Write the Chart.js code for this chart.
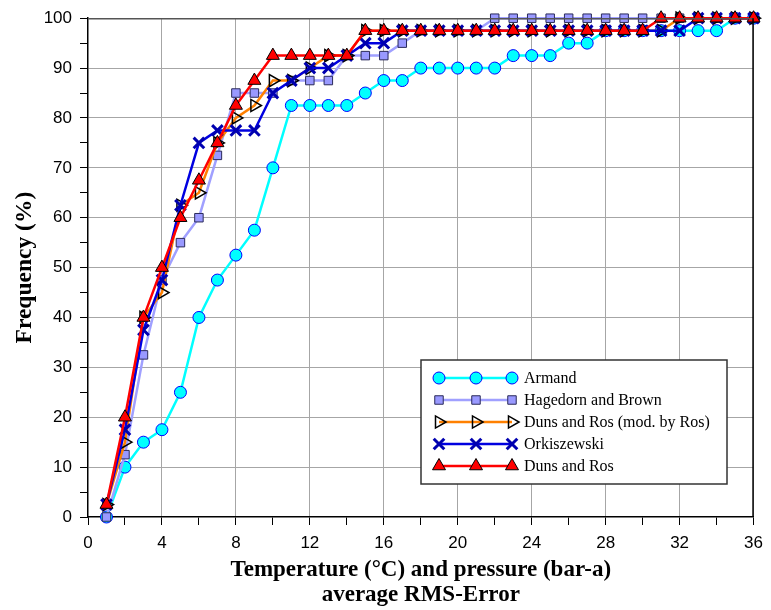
<!DOCTYPE html>
<html><head><meta charset="utf-8">
<script src="https://cdn.jsdelivr.net/npm/chart.js@4/dist/chart.umd.min.js"></script>
<style>html,body{margin:0;padding:0;background:#fff}#wrap{width:771px;height:610px;position:relative}canvas{display:block}</style>
</head><body><div id="wrap"><canvas id="c" width="771" height="610" style="width:771px;height:610px"></canvas></div>
<script>
// ---- data ----
const rmsError = [1,2,3,4,5,6,7,8,9,10,11,12,13,14,15,16,17,18,19,20,21,22,23,24,25,26,27,28,29,30,31,32,33,34,35,36];
const seriesNames = ['Armand','Hagedorn and Brown','Duns and Ros (mod. by Ros)','Orkiszewski','Duns and Ros'];
const armand = [0,10,15,17.5,25,40,47.5,52.5,57.5,70,82.5,82.5,82.5,82.5,85,87.5,87.5,90,90,90,90,90,92.5,92.5,92.5,95,95,97.5,97.5,97.5,97.5,97.5,97.5,97.5,100,100];
const hagedornBrown = [0,12.5,32.5,47.5,55,60,72.5,85,85,85,87.5,87.5,87.5,92.5,92.5,92.5,95,97.5,97.5,97.5,97.5,100,100,100,100,100,100,100,100,100,100,100,100,100,100,100];
const dunsRosMod = [2.5,15,40,45,62.5,65,75,80,82.5,87.5,87.5,90,92.5,92.5,97.5,97.5,97.5,97.5,97.5,97.5,97.5,97.5,97.5,97.5,97.5,97.5,97.5,97.5,97.5,97.5,97.5,100,100,100,100,100];
const orkiszewski = [2.5,17.5,37.5,47.5,62.5,75,77.5,77.5,77.5,85,87.5,90,90,92.5,95,95,97.5,97.5,97.5,97.5,97.5,97.5,97.5,97.5,97.5,97.5,97.5,97.5,97.5,97.5,97.5,97.5,100,100,100,100];
const dunsRos = [2.5,20,40,50,60,67.5,75,82.5,87.5,92.5,92.5,92.5,92.5,92.5,97.5,97.5,97.5,97.5,97.5,97.5,97.5,97.5,97.5,97.5,97.5,97.5,97.5,97.5,97.5,97.5,100,100,100,100,100,100];
const xTickLabels = [0,4,8,12,16,20,24,28,32,36];
const yTickLabels = [0,10,20,30,40,50,60,70,80,90,100];
const xTitle = ['Temperature (\u00B0C) and pressure (bar-a)','average RMS-Error'];
const yTitle = 'Frequency (%)';

// ---- styles ----
const styles = [
  {line:'#00FFFF', fill:'#00FFFF', stroke:'#0000FF', shape:'circle', r:6, bw:1, rot:0, lw:2.5},
  {line:'#A0A0FF', fill:'#9999FF', stroke:'#2A2A5A', shape:'rect', r:6, bw:1, rot:0, lw:2.5},
  {line:'#FF8000', fill:'rgba(0,0,0,0)', stroke:'#000000', shape:'triangle', r:7, bw:1.5, rot:90, lw:2.5},
  {line:'#0000E0', fill:'#0000CC', stroke:'#0000B0', shape:'crossRot', r:7.5, bw:3, rot:0, lw:2.5},
  {line:'#FF0000', fill:'#FF0000', stroke:'#000000', shape:'triangle', r:7.5, bw:1, rot:0, lw:2.5}
];
const allSeries = [armand, hagedornBrown, dunsRosMod, orkiszewski, dunsRos];

const datasets = allSeries.map((arr, i) => {
  const s = styles[i];
  return {
    label: seriesNames[i],
    data: arr.map((v, j) => ({x: rmsError[j], y: v})),
    borderColor: s.line,
    borderWidth: s.lw,
    pointStyle: s.shape,
    pointRadius: s.r,
    pointRotation: s.rot,
    pointBackgroundColor: s.fill,
    pointBorderColor: s.stroke,
    pointBorderWidth: s.bw,
    tension: 0,
    clip: false,
    order: 5 - i
  };
});

function drawMarker(ctx, s, x, y) {
  ctx.save();
  ctx.fillStyle = s.fill; ctx.strokeStyle = s.stroke; ctx.lineWidth = s.bw;
  ctx.beginPath();
  const r = s.r;
  if (s.shape === 'circle') {
    ctx.arc(x, y, r, 0, Math.PI * 2);
    ctx.fill(); ctx.stroke();
  } else if (s.shape === 'rect') {
    const h = r * Math.SQRT1_2;
    ctx.rect(x - h, y - h, 2 * h, 2 * h);
    ctx.fill(); ctx.stroke();
  } else if (s.shape === 'triangle') {
    let rad = s.rot * Math.PI / 180;
    ctx.moveTo(x + Math.sin(rad) * r, y - Math.cos(rad) * r);
    rad += 2 * Math.PI / 3;
    ctx.lineTo(x + Math.sin(rad) * r, y - Math.cos(rad) * r);
    rad += 2 * Math.PI / 3;
    ctx.lineTo(x + Math.sin(rad) * r, y - Math.cos(rad) * r);
    ctx.closePath();
    ctx.fill(); ctx.stroke();
  } else if (s.shape === 'crossRot') {
    const o = r * Math.SQRT1_2;
    ctx.moveTo(x - o, y - o); ctx.lineTo(x + o, y + o);
    ctx.moveTo(x - o, y + o); ctx.lineTo(x + o, y - o);
    ctx.stroke();
  }
  ctx.restore();
}

const framePlugin = {
  id: 'frame',
  afterDraw(chart) {
    const {ctx, chartArea: a} = chart;
    ctx.save();
    ctx.lineWidth = 1.5;
    ctx.strokeStyle = '#555555';
    ctx.beginPath(); ctx.moveTo(a.left, a.top + 0.5); ctx.lineTo(a.right, a.top + 0.5); ctx.stroke();
    ctx.strokeStyle = '#000000';
    ctx.beginPath(); ctx.moveTo(a.right - 0.5, a.top); ctx.lineTo(a.right - 0.5, a.bottom); ctx.stroke();
    ctx.restore();
  }
};

const legendPlugin = {
  id: 'boxLegend',
  afterDraw(chart) {
    const ctx = chart.ctx;
    const bx = 421, by = 360, bw = 306, bh = 124;
    ctx.save();
    ctx.fillStyle = '#FFFFFF';
    ctx.fillRect(bx, by, bw, bh);
    ctx.strokeStyle = '#333333'; ctx.lineWidth = 1.5;
    ctx.strokeRect(bx, by, bw, bh);
    ctx.font = '16px "Liberation Serif", "Times New Roman", serif';
    ctx.textBaseline = 'middle';
    ctx.textAlign = 'left';
    seriesNames.forEach((name, i) => {
      const s = styles[i];
      const y = 378 + i * 22;
      ctx.strokeStyle = s.line; ctx.lineWidth = s.lw;
      ctx.beginPath(); ctx.moveTo(439, y); ctx.lineTo(512, y); ctx.stroke();
      [439, 476, 512].forEach(x => drawMarker(ctx, s, x, y));
      ctx.fillStyle = '#000';
      ctx.fillText(name, 524, y + 1);
    });
    ctx.restore();
  }
};

const tickFont = {family: '"Liberation Sans", Arial, sans-serif', size: 17};
const titleFont = {family: '"Liberation Serif", "Times New Roman", serif', size: 23, weight: 'bold', lineHeight: 1.1};

new Chart(document.getElementById('c'), {
  type: 'line',
  data: {datasets},
  options: {
    responsive: false,
    devicePixelRatio: 1,
    animation: false,
    layout: {padding: {left: 0, right: 14, top: 16, bottom: 0}},
    plugins: {legend: {display: false}, tooltip: {enabled: false}},
    scales: {
      x: {
        type: 'linear', min: 0, max: 36,
        afterFit(scale) { scale.height = 93; },
        ticks: {
          stepSize: 2, autoSkip: false, maxRotation: 0, padding: 8,
          color: '#000', font: tickFont,
          callback: v => xTickLabels.includes(v) ? String(v) : ''
        },
        grid: {
          color: c => (c.tick && c.tick.value % 4 === 0 && c.tick.value !== 0) ? '#A6A6A6' : 'rgba(0,0,0,0)',
          tickColor: '#000', tickLength: 8, lineWidth: 1
        },
        border: {color: '#000', width: 1.5},
        title: {display: true, text: xTitle, color: '#000', font: titleFont, padding: {top: 0, bottom: 2}}
      },
      y: {
        type: 'linear', min: 0, max: 100,
        afterFit(scale) { scale.width = 88; },
        ticks: {
          stepSize: 5, autoSkip: false, padding: 8,
          color: '#000', font: tickFont,
          callback: v => yTickLabels.includes(v) ? String(v) : ''
        },
        grid: {
          color: c => (c.tick && c.tick.value % 10 === 0 && c.tick.value !== 0) ? '#A6A6A6' : 'rgba(0,0,0,0)',
          tickColor: '#000', tickLength: 8, lineWidth: 1
        },
        border: {color: '#000', width: 1.5},
        title: {display: true, text: yTitle, color: '#000', font: {family: '"Liberation Serif", "Times New Roman", serif', size: 23.5, weight: 'bold', lineHeight: 1.1}, padding: {top: 12, bottom: 0}}
      }
    }
  },
  plugins: [framePlugin, legendPlugin]
});
</script>
</body></html>
